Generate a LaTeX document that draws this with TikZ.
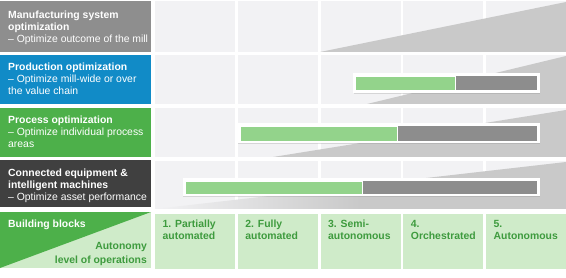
\documentclass[tikz,border=0pt]{standalone}
\usepackage{fontspec}
\setmainfont{Liberation Sans}
\usetikzlibrary{shadows}
\definecolor{mgray}{HTML}{8E8E8E}
\definecolor{mblue}{HTML}{118BC7}
\definecolor{mgreen}{HTML}{4DB04A}
\definecolor{mdark}{HTML}{404040}
\definecolor{lgreen}{HTML}{CFEBC9}
\definecolor{cellc}{HTML}{F2F2F4}
\definecolor{trig}{HTML}{C9C9C9}
\definecolor{bgreen}{HTML}{93D38B}
\definecolor{bgray}{HTML}{8D8D8D}
\definecolor{tgreen}{HTML}{3E9B3E}
\begin{document}
\begin{tikzpicture}[x=1pt,y=-1pt,
  txt/.style={anchor=base west,inner sep=0pt,align=left,font=\fontsize{10.4}{12}\selectfont},
  lefttxt/.style={txt,text=white},
  celltxt/.style={txt,text=tgreen,font=\fontsize{10.4}{12}\selectfont\bfseries},
  barframe/.style={fill=white,drop shadow={shadow xshift=0.8pt,shadow yshift=-0.8pt,opacity=0.25}},
  bargreen/.style={fill=bgreen,draw=white,line width=0.6pt},
  bargray/.style={fill=bgray}]
\useasboundingbox (0,0) rectangle (566,278);
\fill[white] (0,0) rectangle (566,278);
% left column
\fill[mgray] (0,1) rectangle (151,52);
\fill[mblue] (0,55) rectangle (151,104);
\fill[mgreen] (0,108) rectangle (151,157);
\fill[mdark] (0,160) rectangle (151,207);
\fill[lgreen] (0,212) rectangle (151,268);
\fill[mgreen] (0,212) -- (151,212) -- (0,268) -- cycle;
% grid
\foreach \i in {0,...,4}{
  \pgfmathsetmacro{\xa}{155+82.75*\i}
  \pgfmathsetmacro{\xb}{\xa+80}
  \fill[cellc] (\xa,1) rectangle (\xb,52);
  \fill[cellc] (\xa,55) rectangle (\xb,104);
  \fill[cellc] (\xa,108) rectangle (\xb,157);
  \fill[cellc] (\xa,161) rectangle (\xb,209);
  \fill[lgreen] (\xa,214) rectangle (\xb,269);
}
% triangles
\fill[trig] (320,52) -- (566,52) -- (566,2) -- cycle;
\fill[trig] (367,104) -- (566,104) -- (566,56) -- cycle;
\fill[trig] (273,157) -- (566,157) -- (566,110) -- cycle;
\shade[left color=cellc,right color=trig,middle color=trig] (155,209) -- (566,209) -- (566,162) -- cycle;
% bars
\fill[barframe] (353,73.5) rectangle (539.5,93);
\fill[bargray] (455,76) rectangle (537,90.5);
\filldraw[bargreen] (355.5,76) rectangle (455,90.5);
\fill[barframe] (237.5,123.5) rectangle (539.5,143.5);
\fill[bargray] (397,126) rectangle (537,141);
\filldraw[bargreen] (240,126) rectangle (397,141);
\fill[barframe] (182.5,178.5) rectangle (539.5,196.5);
\fill[bargray] (362,181) rectangle (537,194);
\filldraw[bargreen] (185,181) rectangle (362,194);
% left texts (anchored at the baseline of the last line)
\node[lefttxt] (t1) at (8,42.8) {\textbf{Manufacturing system}\\\textbf{optimization}\\– Optimize outcome of the mill};
\node[lefttxt] (t2) at (8,94.5) {\textbf{Production optimization}\\– Optimize mill-wide or over\\the value chain};
\node[lefttxt] (t3) at (8,147.2) {\textbf{Process optimization}\\– Optimize individual process\\areas};
\node[lefttxt] (t4) at (8,200.6) {\textbf{Connected equipment \&}\\\textbf{intelligent machines}\\– Optimize asset performance};
\node[lefttxt,font=\fontsize{10.4}{12}\selectfont\bfseries] (bb) at (8,227) {Building blocks};
\node[txt,anchor=base east,align=right,text=tgreen,font=\fontsize{10.4}{14}\selectfont\bfseries] (al) at (147,263.5) {Autonomy\\level of operations};
% cell texts
\node[celltxt] (c1) at (162.5,239.3) {1. Partially\\automated};
\node[celltxt] (c2) at (245.25,239.3) {2. Fully\\automated};
\node[celltxt] (c3) at (328,239.3) {3. Semi-\\autonomous};
\node[celltxt] (c4) at (410.75,239.3) {4.\\Orchestrated};
\node[celltxt] (c5) at (493.5,239.3) {5.\\Autonomous};
\end{tikzpicture}
\end{document}
